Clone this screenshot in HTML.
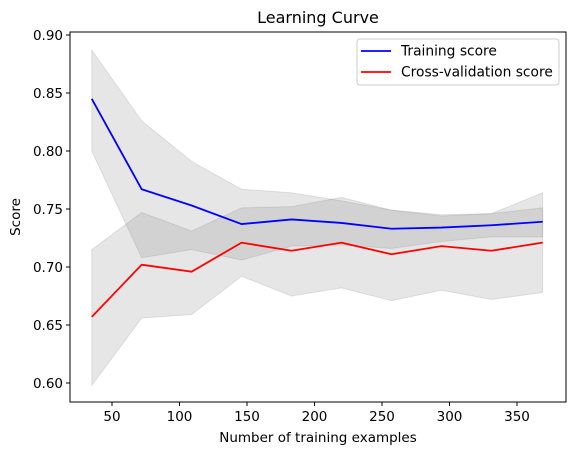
<!DOCTYPE html>
<html><head><meta charset="utf-8"><style>
body{margin:0;background:#fff;}
svg text{font-family:"DejaVu Sans","Liberation Sans",sans-serif;fill:#000;}
</style></head><body>
<svg id="chart" width="576" height="455">
<rect width="576" height="455" fill="#fff"/>
<g id="bands"></g><g id="lines"></g><g id="axes"></g>
<text x="318" y="23" font-size="16" text-anchor="middle">Learning Curve</text>
<text x="318" y="442" font-size="13.5" text-anchor="middle">Number of training examples</text>
<text x="20" y="217" font-size="13.5" text-anchor="middle" transform="rotate(-90 20 217)">Score</text>
<g>
<rect x="357" y="39" width="202" height="46" rx="3" fill="#fff" stroke="#ccc"/>
<line x1="361" y1="51" x2="391" y2="51" stroke="blue" stroke-width="1.8"/>
<text x="401" y="55.5" font-size="13.8">Training score</text>
<line x1="361" y1="72" x2="391" y2="72" stroke="red" stroke-width="1.8"/>
<text x="401" y="76.5" font-size="13.8">Cross-validation score</text>
</g>
</svg>
<script>
const sizes=[35,72,109,146,183,220,257,294,331,369];
const trainMean=[0.845,0.767,0.753,0.737,0.741,0.738,0.733,0.734,0.736,0.739];
const trainUpper=[0.887,0.826,0.791,0.767,0.764,0.757,0.749,0.745,0.746,0.751];
const trainLower=[0.800,0.708,0.715,0.706,0.718,0.719,0.716,0.722,0.726,0.726];
const cvMean=[0.657,0.702,0.696,0.721,0.714,0.721,0.711,0.718,0.714,0.721];
const cvUpper=[0.715,0.747,0.731,0.751,0.752,0.760,0.749,0.744,0.746,0.764];
const cvLower=[0.598,0.656,0.659,0.692,0.675,0.682,0.671,0.680,0.672,0.678];
const xTicks=[50,100,150,200,250,300,350];
const yTicks=[0.60,0.65,0.70,0.75,0.80,0.85,0.90];
const L=70,R=566,T=32,B=402;
const X=v=>112+(v-50)*1.35;
const Y=v=>383-(v-0.60)*1160;
const NS="http://www.w3.org/2000/svg";
function mk(t,a,p){const e=document.createElementNS(NS,t);for(const k in a)e.setAttribute(k,a[k]);p.appendChild(e);return e;}
const bands=document.getElementById('bands'),lines=document.getElementById('lines'),axes=document.getElementById('axes');
function band(up,lo,name){
  let pts=sizes.map((s,i)=>X(s)+','+Y(up[i]));
  for(let i=sizes.length-1;i>=0;i--)pts.push(X(sizes[i])+','+Y(lo[i]));
  const p=mk('polygon',{points:pts.join(' '),fill:'#808080','fill-opacity':0.2,stroke:'#808080','stroke-opacity':0.2},bands);
  
  
}
band(trainUpper,trainLower,'training-std-band');
band(cvUpper,cvLower,'cv-std-band');
function line(m,c,name){
  const p=mk('polyline',{points:sizes.map((s,i)=>X(s)+','+Y(m[i])).join(' '),fill:'none',stroke:c,'stroke-width':1.8},lines);
  
  
}
line(trainMean,'blue','training-score-line');
line(cvMean,'red','cv-score-line');
const fr=mk('rect',{x:L,y:T,width:R-L,height:B-T,fill:'none',stroke:'#000','stroke-width':1},axes);


xTicks.forEach(t=>{
  mk('line',{x1:X(t),y1:B,x2:X(t),y2:B+4,stroke:'#000'},axes);
  const tx=mk('text',{x:X(t),y:B+19,'font-size':13.5,'text-anchor':'middle'},axes);tx.textContent=t;
  
  
});
yTicks.forEach(t=>{
  mk('line',{x1:L-4,y1:Y(t),x2:L,y2:Y(t),stroke:'#000'},axes);
  const tx=mk('text',{x:L-7,y:Y(t)+5,'font-size':13.5,'text-anchor':'end'},axes);tx.textContent=t.toFixed(2);
  
  
});
</script>
</body></html>
